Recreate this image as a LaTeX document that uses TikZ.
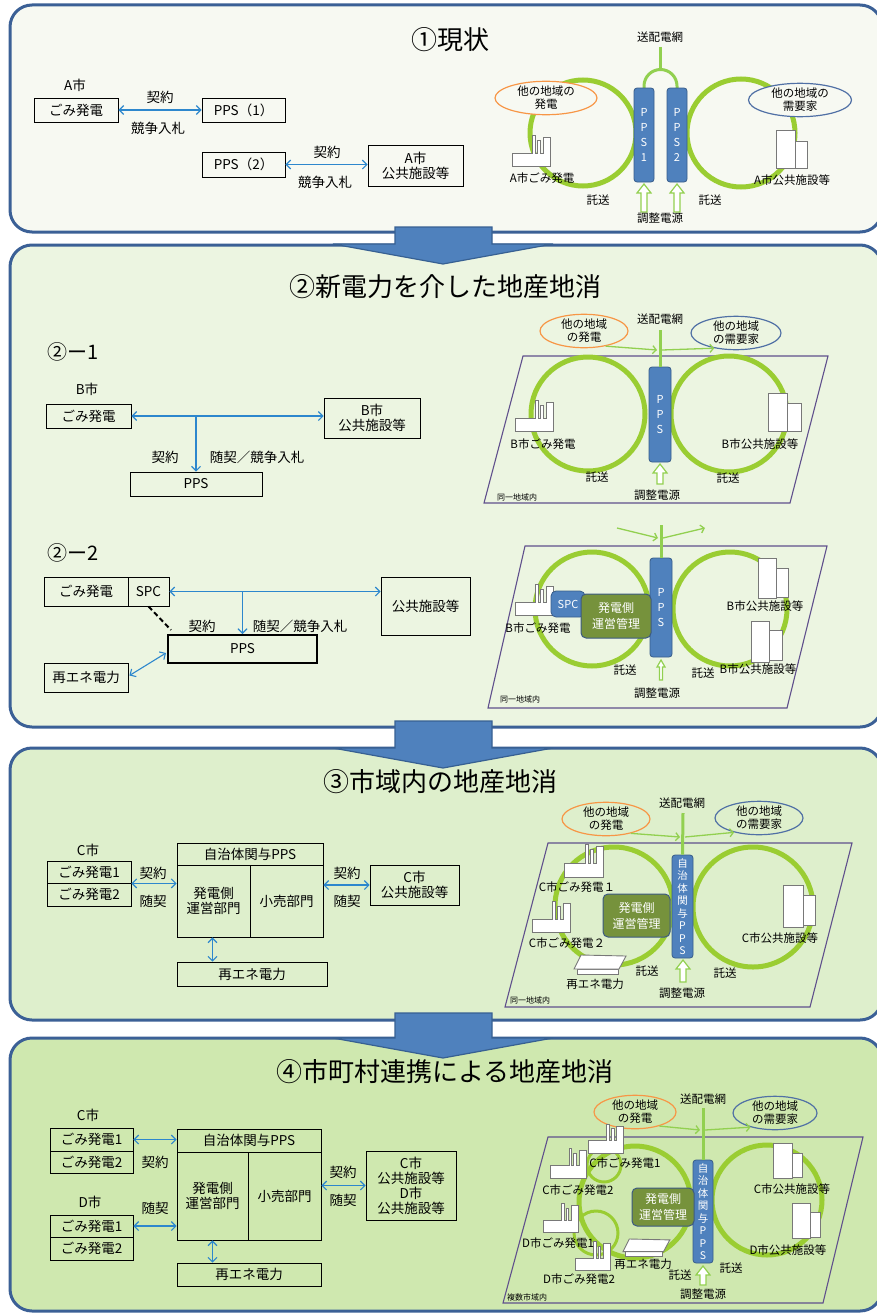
\documentclass[tikz,border=0pt]{standalone}
\usepackage{fontspec}
\setmainfont{Noto Sans CJK JP}
\usetikzlibrary{arrows.meta,shapes.geometric,calc}

\definecolor{pborder}{RGB}{59,96,150}
\definecolor{bgone}{RGB}{247,249,242}
\definecolor{bgtwo}{RGB}{236,245,225}
\definecolor{bgthree}{RGB}{222,239,204}
\definecolor{bgfour}{RGB}{207,232,175}
\definecolor{arrowfill}{RGB}{79,129,189}
\definecolor{arrowline}{RGB}{55,96,146}
\definecolor{linkblue}{RGB}{45,135,205}
\definecolor{ringgreen}{RGB}{154,205,50}
\definecolor{lgreen}{RGB}{146,208,80}
\definecolor{ppsfill}{RGB}{79,129,189}
\definecolor{ppsline}{RGB}{56,93,138}
\definecolor{olive}{RGB}{118,146,60}
\definecolor{oliveline}{RGB}{60,90,130}
\definecolor{quad}{RGB}{96,80,140}
\definecolor{orng}{RGB}{247,150,70}
\definecolor{eblue}{RGB}{80,112,165}
\definecolor{icongray}{RGB}{120,120,120}

% factory icon: bottom-left corner and scale
\newcommand\plantat[3]{%
  \begin{scope}[shift={(#1,#2)},scale=#3]
    \draw[icon] (0,0) -- (0,-13) -- (20,-13) -- (20,-31) -- (23,-31) -- (23,-13)
      -- (25,-13) -- (25,-26) -- (28,-26) -- (28,-13) -- (31,-13) -- (31,-29)
      -- (38,-29) -- (38,0) -- cycle;
  \end{scope}}
% solar panel icon: top-left corner and scale
\newcommand\solarat[3]{%
  \begin{scope}[shift={(#1,#2)},scale=#3]
    \draw[icon] (3,14) -- (44,14) -- (44,19) -- (3,19) -- cycle;
    \draw[icon] (7,0) -- (52,1) -- (45,14) -- (0,14) -- cycle;
  \end{scope}}
% hollow up arrow: x, tip y, bottom y
\newcommand\feedarrow[3]{%
  \draw[hollow] (#1-3,#3) -- (#1-3,#2+9) -- (#1-7,#2+9) -- (#1,#2)
    -- (#1+7,#2+9) -- (#1+3,#2+9) -- (#1+3,#3) -- cycle;}
% big block arrow between panels: shaft top, head base
\newcommand\stagearrow[2]{%
  \draw[bigarrow] (395,#1) -- (492,#1) -- (492,#2) -- (553,#2) -- (443,#2+20)
    -- (333,#2) -- (395,#2) -- cycle;}

\begin{document}
\begin{tikzpicture}[x=1pt,y=-1pt,
  panel/.style={draw=pborder,line width=3pt,rounded corners=22pt},
  bigarrow/.style={fill=arrowfill,draw=arrowline,line width=1.2pt},
  box/.style={draw=black,line width=0.9pt,inner sep=0pt,align=center,font=\fontsize{13.5}{15}\selectfont},
  txt/.style={inner sep=0pt,align=center,font=\fontsize{13.5}{15}\selectfont},
  link/.style={draw=linkblue,line width=1.1pt,{Straight Barb[length=4.5pt,width=9pt]}-{Straight Barb[length=4.5pt,width=9pt]}},
  linkone/.style={draw=linkblue,line width=1.1pt,-{Straight Barb[length=4.5pt,width=9pt]}},
  ring/.style={draw=ringgreen,line width=5pt},
  smallring/.style={draw=ringgreen,line width=3pt},
  wire/.style={draw=lgreen,line width=3pt},
  thinarrow/.style={draw=lgreen,line width=1.3pt,-{Straight Barb[length=3.5pt,width=8pt]}},
  bar/.style={fill=ppsfill,draw=ppsline,line width=0.8pt,rounded corners=3pt,text=white,inner sep=0pt,align=center,font=\fontsize{11}{15}\selectfont},
  mgmt/.style={fill=olive,draw=oliveline,line width=1pt,rounded corners=5pt,text=white,inner sep=0pt,align=center,font=\fontsize{12}{16}\selectfont},
  region/.style={draw=quad,line width=1.1pt},
  oval/.style={ellipse,line width=1.2pt,inner sep=0pt,align=center,font=\fontsize{11.5}{13}\selectfont},
  lab/.style={inner sep=0pt,align=center,font=\fontsize{11.5}{13}\selectfont},
  tiny/.style={inner sep=0pt,font=\fontsize{8}{9}\selectfont},
  icon/.style={draw=icongray,fill=white,line width=0.9pt},
  hollow/.style={draw=lgreen,fill=white,line width=1.2pt},
  title/.style={inner sep=0pt,font=\fontsize{26}{30}\selectfont},
  sub/.style={inner sep=0pt,anchor=west,font=\fontsize{20}{22}\selectfont},
]
\useasboundingbox (0,0) rectangle (877,1314);
\fill[white] (0,0) rectangle (877,1314);

% ---------- panels ----------
\draw[panel,fill=bgone] (10,5) rectangle (882,232);
\draw[panel,fill=bgtwo] (10,245) rectangle (882,727);
\draw[panel,fill=bgthree] (10,748) rectangle (882,1020);
\draw[panel,fill=bgfour] (10,1038) rectangle (882,1311);

% ================= (1) current state =================
\node[title] (t1) at (450,40) {①現状};

\node[txt] (a0) at (75,85) {A市};
\node[box,minimum width=84,minimum height=24] (a1) at (76,110) {ごみ発電};
\node[box,minimum width=83,minimum height=24] (a2) at (243.5,110) {PPS（1）};
\draw[link] (a1.east) -- (a2.west);
\node[txt] (a1c) at (160,97) {契約};
\node[txt] (a1b) at (158,128) {競争入札};
\node[box,minimum width=83,minimum height=25] (a3) at (243.5,164.5) {PPS（2）};
\node[box,minimum width=95,minimum height=41] (a4) at (415.5,165.5) {A市\\公共施設等};
\draw[link] (a3.east) -- (a3.east -| a4.west);
\node[txt] (a2c) at (327,152) {契約};
\node[txt] (a2b) at (325,182) {競争入札};

% network diagram
\draw[ring] (583,133) circle[radius=53];
\draw[ring] (741,133) circle[radius=54];
\coordinate (net1) at (660,47);
\coordinate (fork1) at (660,70);
\draw[wire] (net1) -- (fork1);
\draw[wire] (644,90) -- (644,86) arc[start angle=180,end angle=360,radius=16.5] -- (677,90);
\node[lab] (w1) at (660,37) {送配電網};
\node[bar,minimum width=20,minimum height=94] (p11) at (644,135) {P\\P\\S\\1};
\node[bar,minimum width=20,minimum height=94] (p12) at (677,135) {P\\P\\S\\2};
\node[oval,draw=orng,fill=bgone,minimum width=102,minimum height=27] (o1) at (546,98) {他の地域の\\発電};
\node[oval,draw=eblue,fill=bgone,minimum width=103,minimum height=27] (e1) at (800,100) {他の地域の\\需要家};
\plantat{512}{166}{1}
\node[lab] (f1) at (542,178) {A市ごみ発電};
\draw[icon] (776,130) rectangle (795,168);
\draw[icon] (795,141) rectangle (807,168);
\node[lab] (g1) at (792,180) {A市公共施設等};
\node[lab] (k11) at (598,200) {託送};
\node[lab] (k12) at (710,200) {託送};
\feedarrow{644}{184}{212}
\feedarrow{677}{184}{212}
\node[lab] (s1) at (660,218) {調整電源};

% ================= (2) via new power =================
\node[title] (t2) at (445,287) {②新電力を介した地産地消};

% (2)-1
\node[sub] (h21) at (47,352) {②ー1};
\node[txt] (b0) at (87,389) {B市};
\node[box,minimum width=85,minimum height=24] (b1) at (88.5,416) {ごみ発電};
\node[box,minimum width=96,minimum height=40] (b2) at (372,418) {B市\\公共施設等};
\node[box,minimum width=132,minimum height=24] (b3) at (196,484) {PPS};
\draw[link] (b1.east) -- (b1.east -| b2.west);
\coordinate (bj) at (b3.north |- b1.east);
\draw[linkone] (bj) -- (b3.north);
\node[txt] (b1c) at (165,457) {契約};
\node[txt] (b1b) at (257,457) {随契／競争入札};

% (2)-2
\node[sub] (h22) at (47,553) {②ー2};
\node[box,minimum width=84,minimum height=29] (c1) at (86,591.5) {ごみ発電};
\node[box,minimum width=41,minimum height=29] (c2) at (148.5,591.5) {SPC};
\node[box,minimum width=89,minimum height=58] (c3) at (425.5,606) {公共施設等};
\node[box,minimum width=149,minimum height=28,line width=2pt] (c4) at (242.5,649) {PPS};
\node[box,minimum width=84,minimum height=29] (c5) at (86,677.5) {再エネ電力};
\draw[link] (c2.east) -- (c2.east -| c3.west);
\coordinate (cj) at (c4.north |- c2.east);
\draw[linkone] (cj) -- (c4.north);
\draw[black,line width=2pt,dash pattern=on 5pt off 3pt] (c2.south) -- ($(c4.north west)+(4,-4)$);
\draw[link] ($(c5.east)+(1,-2)$) -- ($(c4.west)+(-1,4)$);
\node[txt] (c1c) at (202,626) {契約};
\node[txt] (c1b) at (300,626) {随契／競争入札};

% (2)-1 network
\draw[region,fill=bgtwo] (523,356) -- (828,356) -- (790,503) -- (484,503) -- cycle;
\draw[ring] (588,414) circle[radius=57];
\draw[ring] (729,414) circle[radius=58];
\node[bar,minimum width=22,minimum height=95] (p2) at (660,414.5) {P\\P\\S};
\coordinate (net2) at (660,330);
\coordinate (j2) at (660,350);
\draw[wire] (net2) -- (p2.north);
\node[lab] (w2) at (660,319) {送配電網};
\node[oval,draw=orng,fill=bgtwo,minimum width=88,minimum height=25] (o2) at (584,331) {他の地域\\の発電};
\node[oval,draw=eblue,fill=bgtwo,minimum width=90,minimum height=24] (e2) at (736,333) {他の地域\\の需要家};
\draw[thinarrow] (o2.-35) -- ($(j2)+(-3,0)$);
\draw[thinarrow] ($(j2)+(2,0)$) -- (e2.-145);
\plantat{515}{431}{1}
\node[lab] (f2) at (543,444) {B市ごみ発電};
\draw[icon] (768,393) rectangle (787,431);
\draw[icon] (787,403) rectangle (801,431);
\node[lab] (g2) at (760,444) {B市公共施設等};
\node[lab] (k21) at (597,477) {託送};
\node[lab] (k22) at (728,478) {託送};
\feedarrow{660}{464}{484}
\node[lab] (s2) at (657,495) {調整電源};
\node[tiny] (r2) at (517,497) {同一地域内};

% (2)-2 network
\draw[region] (525,546) -- (827,546) -- (787,708) -- (488,708) -- cycle;
\draw[ring] (592,609) circle[radius=57];
\draw[ring] (730,609) circle[radius=57];
\node[bar,minimum width=22,minimum height=99] (p3) at (661,607.5) {P\\P\\S};
\coordinate (net3) at (661,525);
\coordinate (j3) at (661,538);
\coordinate (in3) at (617,528);
\coordinate (out3) at (705,528);
\draw[wire] (net3) -- (p3.north);
\draw[thinarrow] (in3) -- ($(j3)+(-3,0)$);
\draw[thinarrow] ($(j3)+(2,0)$) -- (out3);
\plantat{515}{615}{1}
\node[bar,font=\fontsize{11}{12}\selectfont,rounded corners=5pt,minimum width=34,minimum height=26] (spc) at (568,604) {SPC};
\node[mgmt,minimum width=70,minimum height=44] (m3) at (616,616) {発電側\\運営管理};
\node[lab] (f3) at (538,628) {B市ごみ発電};
\draw[icon] (758,558) rectangle (776,598);
\draw[icon] (776,568) rectangle (788,597);
\node[lab] (g31) at (765,606) {B市公共施設等};
\draw[icon] (751,621) rectangle (769,662);
\draw[icon] (769,630) rectangle (782,660);
\node[lab] (g32) at (758,669) {B市公共施設等};
\node[lab] (k31) at (625,670) {託送};
\node[lab] (k32) at (703,673) {託送};
\draw[hollow] (659.5,680) -- (659.5,667) -- (657,667) -- (661,660) -- (665,667) -- (662.5,667) -- (662.5,680) -- cycle;
\node[lab] (s3) at (657,693) {調整電源};
\node[tiny] (r3) at (520,699) {同一地域内};

% ================= (3) within the city =================
\node[title] (t3) at (440,782) {③市域内の地産地消};

\node[txt] (d0) at (88,850) {C市};
\node[box,minimum width=84,minimum height=22] (d1) at (89,872) {ごみ発電1};
\node[box,minimum width=84,minimum height=23] (d2) at (89,894.5) {ごみ発電2};
\node[box,minimum width=146,minimum height=22] (dh) at (250,854) {自治体関与PPS};
\node[box,minimum width=73,minimum height=72] (dl) at (213.5,901) {発電側\\運営部門};
\node[box,minimum width=73,minimum height=72] (dr) at (286.5,901) {小売部門};
\node[box,minimum width=89,minimum height=40] (dc) at (414.5,885) {C市\\公共施設等};
\node[box,minimum width=150,minimum height=24] (dre) at (252,974) {再エネ電力};
\draw[link] (d1.south east) -- (d1.south east -| dl.west);
\draw[link] (dc.west -| dr.east) -- (dc.west);
\draw[link] ($(dl.south)+(-1,0)$) -- ($(dl.south |- dre.north)+(-1,0)$);
\node[txt] (d1c) at (153,873) {契約};
\node[txt] (d1b) at (153,901) {随契};
\node[txt] (d2c) at (347,873) {契約};
\node[txt] (d2b) at (347,901) {随契};

\draw[region] (548,843) -- (852,843) -- (810,1007) -- (505,1007) -- cycle;
\draw[ring] (614,906) circle[radius=59];
\draw[ring] (753,907) circle[radius=60];
\node[bar,font=\fontsize{10.5}{12.5}\selectfont,minimum width=21,minimum height=103] (p4) at (682.5,906.5) {自\\治\\体\\関\\与\\P\\P\\S};
\coordinate (net4) at (683,813);
\coordinate (j4) at (683,837);
\draw[wire] (net4) -- (p4.north);
\node[lab] (w4) at (682,803) {送配電網};
\node[oval,draw=orng,fill=bgthree,minimum width=88,minimum height=28] (o4) at (606,819) {他の地域\\の発電};
\node[oval,draw=eblue,fill=bgthree,minimum width=88,minimum height=28] (e4) at (759,818) {他の地域\\の需要家};
\draw[thinarrow] (o4.-30) -- ($(j4)+(-3,0)$);
\draw[thinarrow] ($(j4)+(2,0)$) -- (e4.-150);
\plantat{564}{877}{1.05}
\plantat{532}{932}{1}
\node[lab] (f41) at (577,887) {C市ごみ発電１};
\node[lab] (f42) at (567,943) {C市ごみ発電２};
\node[mgmt,minimum width=67,minimum height=43] (m4) at (636.5,915.5) {発電側\\運営管理};
\solarat{574}{955}{1}
\node[lab] (q4) at (595,984) {再エネ電力};
\node[lab] (k41) at (647,971) {託送};
\node[lab] (k42) at (725,973) {託送};
\feedarrow{683}{960}{982}
\node[lab] (s4) at (682,993) {調整電源};
\draw[icon] (783,885) rectangle (803,927);
\draw[icon] (803,895) rectangle (815,925);
\node[lab] (g4) at (780,938) {C市公共施設等};
\node[tiny] (r4) at (530,1000) {同一地域内};

% ================= (4) municipal cooperation =================
\node[title] (t4) at (445,1072) {④市町村連携による地産地消};

\node[txt] (e0) at (88,1115) {C市};
\node[box,minimum width=83,minimum height=23] (ea) at (91.5,1139.5) {ごみ発電1};
\node[box,minimum width=83,minimum height=22] (eb) at (91.5,1162) {ごみ発電2};
\node[txt] (e5) at (90,1202) {D市};
\node[box,minimum width=83,minimum height=22] (ec1) at (91.5,1226) {ごみ発電1};
\node[box,minimum width=83,minimum height=23] (ed) at (91.5,1248.5) {ごみ発電2};
\node[box,minimum width=144,minimum height=23] (eh) at (249,1140.5) {自治体関与PPS};
\node[box,minimum width=71,minimum height=88] (el) at (212.5,1196) {発電側\\運営部門};
\node[box,minimum width=73,minimum height=88] (er) at (284.5,1196) {小売部門};
\node[box,minimum width=90,minimum height=69] (ec) at (411,1185.5) {C市\\公共施設等\\D市\\公共施設等};
\node[box,minimum width=144,minimum height=23] (ere) at (249,1274.5) {再エネ電力};
\draw[link] (ea.east) -- (ea.east -| eh.west);
\draw[link] (ec1.east) -- (ec1.east -| el.west);
\draw[link] (ec.west -| er.east) -- (ec.west);
\draw[link] (el.south) -- (el.south |- ere.north);
\node[txt] (e1c) at (155,1162) {契約};
\node[txt] (e1b) at (155,1208) {随契};
\node[txt] (e2c) at (343,1172) {契約};
\node[txt] (e2b) at (343,1200) {随契};

\draw[region] (548,1137) -- (863,1137) -- (823,1303) -- (503,1303) -- cycle;
\draw[ring] (635,1202) circle[radius=56];
\draw[ring] (767,1200) circle[radius=55];
\draw[smallring] (604,1165) circle[radius=17];
\draw[smallring] (596,1233) circle[radius=22];
\node[bar,font=\fontsize{10.5}{12.5}\selectfont,minimum width=20,minimum height=103] (p5) at (703,1211.5) {自\\治\\体\\関\\与\\P\\P\\S};
\coordinate (net5) at (703,1108);
\coordinate (j5) at (703,1130);
\draw[wire] (net5) -- (p5.north);
\node[lab] (w5) at (703,1099) {送配電網};
\node[oval,draw=orng,fill=bgfour,minimum width=82,minimum height=24] (o5) at (635,1112) {他の地域\\の発電};
\node[oval,draw=eblue,fill=bgfour,minimum width=84,minimum height=22] (e5o) at (775,1113) {他の地域\\の需要家};
\draw[thinarrow] (o5.-30) -- ($(j5)+(-3,0)$);
\draw[thinarrow] ($(j5)+(2,0)$) -- (e5o.-150);
\plantat{588}{1153}{0.93}
\plantat{550}{1178}{0.95}
\plantat{543}{1232}{0.92}
\plantat{575}{1270}{0.92}
\node[lab] (f51) at (625,1163) {C市ごみ発電1};
\node[lab] (f52) at (578,1190) {C市ごみ発電2};
\node[lab] (f53) at (558,1243) {D市ごみ発電1};
\node[lab] (f54) at (579,1279) {D市ごみ発電2};
\node[mgmt,minimum width=62,minimum height=38] (m5) at (663,1207) {発電側\\運営管理};
\solarat{623}{1239}{0.9}
\node[lab] (q5) at (643,1264) {再エネ電力};
\node[lab] (k51) at (680,1275) {託送};
\node[lab] (k52) at (731,1268) {託送};
\feedarrow{703}{1266}{1285}
\node[lab] (s5) at (703,1294) {調整電源};
\draw[icon] (773,1143) rectangle (792,1178);
\draw[icon] (792,1153) rectangle (802,1177);
\node[lab] (g51) at (792,1189) {C市公共施設等};
\draw[icon] (792,1203) rectangle (810,1238);
\draw[icon] (810,1212) rectangle (820,1237);
\node[lab] (g52) at (788,1250) {D市公共施設等};
\node[tiny] (r5) at (527,1297) {複数市域内};

% ---------- stage arrows ----------
\stagearrow{227}{244}
\stagearrow{721}{748}
\stagearrow{1013}{1038}

\end{tikzpicture}
\end{document}
